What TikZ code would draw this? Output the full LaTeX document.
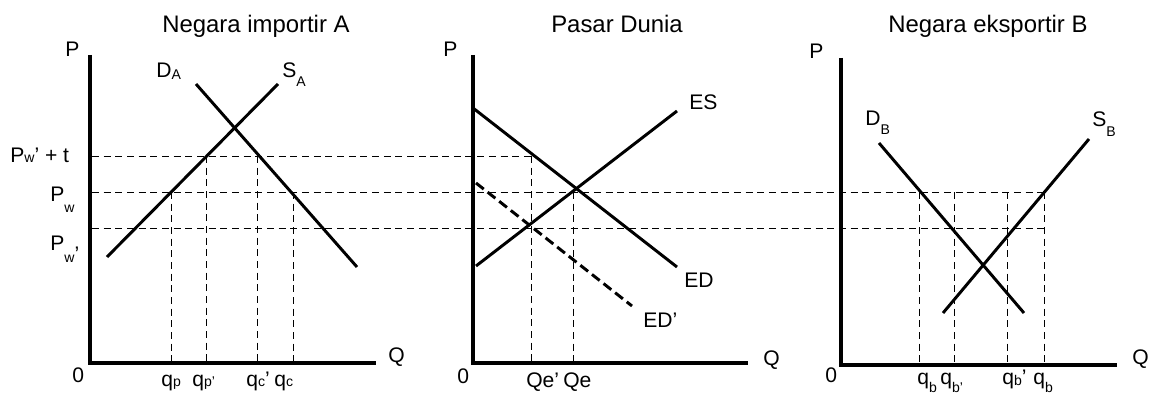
\documentclass[tikz,border=0pt]{standalone}
\usepackage{fontspec}
\setmainfont{Liberation Sans}

\newcommand{\lowsub}[2]{\raisebox{-#1}{\fontsize{10}{12}\selectfont #2}}

\tikzset{
  axis/.style={line width=2.8pt, line join=miter},
  curve/.style={line width=2.1pt},
  shifted/.style={curve, dash pattern=on 7pt off 3.5pt},
  guide/.style={line width=0.7pt, dash pattern=on 5pt off 3.3pt},
  lbl/.style={anchor=base west, inner sep=0pt, font=\fontsize{15}{18}\selectfont},
  ttl/.style={anchor=base west, inner sep=0pt, font=\fontsize{17}{20}\selectfont},
}

\begin{document}
\begin{tikzpicture}[x=0.025cm,y=0.025cm]
  \useasboundingbox (0,0) rectangle (1152,396);
  % Negara importir A
  \coordinate (OA) at (90,33);
  \coordinate (PA) at (90,341);
  \coordinate (QA) at (376,33);
  \draw[axis] (PA) -- (OA) -- (QA);
  \coordinate (SA1) at (107,139);
  \coordinate (SA2) at (278,312);
  \coordinate (DA1) at (196,312);
  \coordinate (DA2) at (357,129);
  \draw[curve] (SA1) -- (SA2);
  \draw[curve] (DA1) -- (DA2);
  % Pasar Dunia
  \coordinate (OW) at (473,33);
  \coordinate (PW) at (473,341);
  \coordinate (QW) at (748,33);
  \draw[axis] (PW) -- (OW) -- (QW);
  \coordinate (ED1) at (473,288);
  \coordinate (ED2) at (677,129);
  \coordinate (ES1) at (476,130);
  \coordinate (ES2) at (677,285);
  \coordinate (EDp1) at (476,213);
  \coordinate (EDp2) at (632,90);
  \draw[curve] (ED1) -- (ED2);
  \draw[curve] (ES1) -- (ES2);
  \draw[shifted] (EDp1) -- (EDp2);
  % Negara eksportir B
  \coordinate (OB) at (841,31);
  \coordinate (PB) at (841,338);
  \coordinate (QB) at (1117,31);
  \draw[axis] (PB) -- (OB) -- (QB);
  \coordinate (DB1) at (879,253);
  \coordinate (DB2) at (1024,83);
  \coordinate (SB1) at (943,83);
  \coordinate (SB2) at (1089,257);
  \draw[curve] (DB1) -- (DB2);
  \draw[curve] (SB1) -- (SB2);
  % price levels
  \coordinate (T0) at (92,240);
  \coordinate (T1) at (531,240);
  \coordinate (W0) at (92,204);
  \coordinate (W1) at (1044,204);
  \coordinate (V0) at (92,168);
  \coordinate (V1) at (1044,168);
  \draw[guide] (T0) -- (T1);
  \draw[guide] (W0) -- (W1);
  \draw[guide] (V0) -- (V1);
  \foreach \x/\yt/\yb in {171/204/33, 206/240/33, 257/240/33, 293/204/33,
                          531/240/33, 573/204/33,
                          919/204/31, 954/204/31, 1007/204/31, 1044/204/31}
    \draw[guide] (\x,\yt) -- (\x,\yb);
  % labels A
  \node[ttl] (tA) at (162,363) {Negara importir A};
  \node[lbl] (pA) at (65,339) {P};
  \node[lbl] (zA) at (72,14) {0};
  \node[lbl] (qA) at (388,34) {Q};
  \node[lbl] (dA) at (156,318) {D\lowsub{1.4pt}{A}};
  \node[lbl] (sA) at (282,318) {S\lowsub{6.4pt}{A}};
  \node[lbl] (pwt) at (10,234) {P\lowsub{0.7pt}{w}’ + t};
  \node[lbl] (pw) at (50,194) {P\lowsub{7.8pt}{w}};
  \node[lbl] (pwp) at (50,146) {P\lowsub{9pt}{w}\raisebox{-8.5pt}{’}};
  \node[lbl] (qp) at (161,10) {q\lowsub{0pt}{p}};
  \node[lbl] (qpp) at (192,10) {q\lowsub{0pt}{p’}};
  \node[lbl] (qcp) at (246,10) {q\lowsub{0pt}{c}’};
  \node[lbl] (qc) at (274,10) {q\lowsub{0pt}{c}};
  % labels world market
  \node[ttl] (tW) at (551,363) {Pasar Dunia};
  \node[lbl] (pW) at (443,339) {P};
  \node[lbl] (zW) at (457,13) {0};
  \node[lbl] (qW) at (763,31) {Q};
  \node[lbl] (es) at (689,286) {ES};
  \node[lbl] (ed) at (684,109) {ED};
  \node[lbl] (edp) at (643,69) {ED’};
  \node[lbl] (qep) at (526,9) {Qe’};
  \node[lbl] (qe) at (563,9) {Qe};
  % labels B
  \node[ttl] (tB) at (888,363) {Negara eksportir B};
  \node[lbl] (pB) at (809,337) {P};
  \node[lbl] (zB) at (825,14) {0};
  \node[lbl] (qB) at (1132,32) {Q};
  \node[lbl] (dB) at (865,270) {D\lowsub{6.4pt}{B}};
  \node[lbl] (sB) at (1092,269) {S\lowsub{7pt}{B}};
  \node[lbl] (qb) at (917,12) {q\lowsub{5.7pt}{b}};
  \node[lbl] (qbp) at (940,12) {q\lowsub{5.7pt}{b’}};
  \node[lbl] (qbpp) at (1002,12) {q\lowsub{1pt}{b}’};
  \node[lbl] (qbb) at (1033,12) {q\lowsub{5.7pt}{b}};
\end{tikzpicture}
\end{document}
